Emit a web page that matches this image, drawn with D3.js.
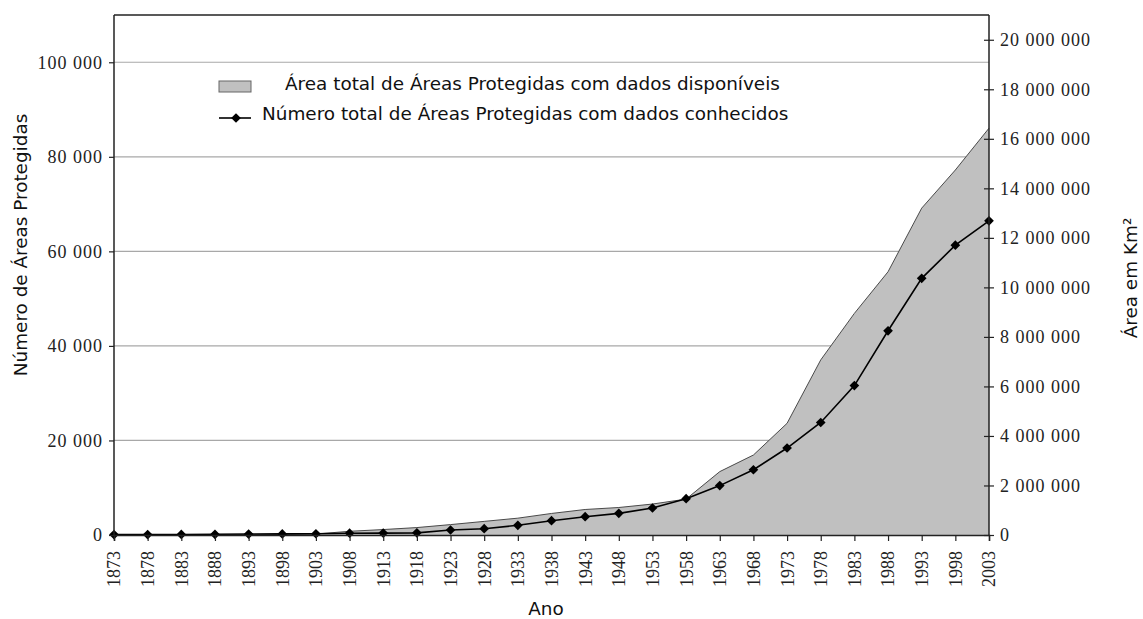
<!DOCTYPE html>
<html>
<head>
<meta charset="utf-8">
<script src="https://cdn.jsdelivr.net/npm/d3@7"></script>
<style>
body { margin: 0; background: #fff; }
.tick text { font-family: "Liberation Serif", serif; font-size: 18px; fill: #222; }
.lbl { font-family: "DejaVu Sans", sans-serif; fill: #111; font-size: 18.4px; }
</style>
</head>
<body>
<svg id="chart" width="1143" height="619"></svg>
<script>
// anos do eixo x
var years = [1873, 1878, 1883, 1888, 1893, 1898, 1903, 1908, 1913, 1918, 1923, 1928, 1933,
	1938, 1943, 1948, 1953, 1958, 1963, 1968, 1973, 1978, 1983, 1988, 1993, 1998, 2003];
// área total (km2), eixo da direita
var areaKm2 = [5000, 5000, 8000, 10000, 15000, 20000, 40000, 150000, 220000, 300000, 420000, 550000, 680000,
	870000, 1030000, 1110000, 1250000, 1450000, 2560000, 3230000, 4510000, 7070000, 8950000, 10630000,
	13200000, 14740000, 16430000];
// número de áreas protegidas, eixo da esquerda
var numAreas = [80, 100, 120, 150, 200, 230, 260, 380, 400, 450, 1060, 1330, 2050,
	3030, 3870, 4580, 5710, 7680, 10450, 13800, 18400, 23800, 31600, 43200, 54300, 61300, 66450];
var leftTicks = [0, 20000, 40000, 60000, 80000, 100000];
var rightTicks = [0, 2000000, 4000000, 6000000, 8000000, 10000000, 12000000, 14000000, 16000000, 18000000, 20000000];

var margin = { left: 114, right: 154, top: 15, bottom: 84 };
var width = 1143 - margin.left - margin.right;
var height = 619 - margin.top - margin.bottom;

var loc = d3.formatLocale({ decimal: ",", thousands: " ", grouping: [3], currency: ["", ""] });
var fmt = loc.format(",d");

var svg = d3.select("#chart");

var x = d3.scalePoint()
	.domain(years)
	.range([margin.left, margin.left + width]);
var yL = d3.scaleLinear()
	.domain([0, 110000])
	.range([margin.top + height, margin.top]);
var yR = d3.scaleLinear()
	.domain([0, 21000000])
	.range([margin.top + height, margin.top]);

// linhas de grade
svg.append("g")
	.selectAll("line")
	.data(leftTicks.slice(1))
	.enter()
	.append("line")
	.attr("x1", margin.left)
	.attr("x2", margin.left + width)
	.attr("y1", function (d) { return yL(d); })
	.attr("y2", function (d) { return yL(d); })
	.attr("stroke", "#a8a8a8")
	.attr("stroke-width", 1.2);

// área
var area = d3.area()
	.x(function (d, i) { return x(years[i]); })
	.y0(yR(0))
	.y1(function (d) { return yR(d); });
var areaEdge = d3.line()
	.x(function (d, i) { return x(years[i]); })
	.y(function (d) { return yR(d); });
svg.append("path")
	.datum(areaKm2)
	.attr("d", area)
	.attr("fill", "#c0c0c0");
svg.append("path")
	.datum(areaKm2)
	.attr("d", areaEdge)
	.attr("fill", "none")
	.attr("stroke", "#4a4a4a")
	.attr("stroke-width", 1);

// número
var line = d3.line()
	.x(function (d, i) { return x(years[i]); })
	.y(function (d) { return yL(d); });
svg.append("path")
	.datum(numAreas)
	.attr("d", line)
	.attr("fill", "none")
	.attr("stroke", "#000")
	.attr("stroke-width", 1.6);
var diamond = d3.symbol().type(d3.symbolDiamond2).size(60);
svg.append("g")
	.selectAll("path")
	.data(numAreas)
	.enter()
	.append("path")
	.attr("d", diamond)
	.attr("transform", function (d, i) {
		return "translate(" + x(years[i]) + "," + yL(d) + ")";
	})
	.attr("fill", "#000");

// moldura de cima
svg.append("line")
	.attr("x1", margin.left).attr("x2", margin.left + width)
	.attr("y1", margin.top).attr("y2", margin.top)
	.attr("stroke", "#222").attr("stroke-width", 1.5);

// eixos
var xAxis = d3.axisBottom(x).tickSize(6).tickPadding(4);
var gx = svg.append("g")
	.attr("transform", "translate(0," + (margin.top + height) + ")")
	.call(xAxis);
gx.selectAll(".tick text")
	.attr("transform", "rotate(-90)")
	.attr("text-anchor", "end")
	.attr("x", -16)
	.attr("y", 0)
	.attr("dy", "0.33em");

var gl = svg.append("g")
	.attr("transform", "translate(" + margin.left + ",0)")
	.call(d3.axisLeft(yL).tickValues(leftTicks).tickFormat(fmt).tickSize(5).tickPadding(6));
gl.select(".domain").attr("d", "M0," + (margin.top + height) + "V" + margin.top);

var gr = svg.append("g")
	.attr("transform", "translate(" + (margin.left + width) + ",0)")
	.call(d3.axisRight(yR).tickValues(rightTicks).tickFormat(fmt).tickSize(5).tickPadding(6));
gr.select(".domain").attr("d", "M0," + (margin.top + height) + "V" + margin.top);
gr.selectAll(".tick line").attr("x1", -5);

svg.selectAll(".domain").attr("stroke", "#222").attr("stroke-width", 1.5);
svg.selectAll(".tick line").attr("stroke", "#222").attr("stroke-width", 1.2);
gl.selectAll(".tick text").style("letter-spacing", "1px");
gr.selectAll(".tick text").style("letter-spacing", "1px");

// títulos
svg.append("text")
	.attr("class", "lbl")
	.attr("transform", "translate(21,245) rotate(-90)")
	.attr("text-anchor", "middle")
	.attr("dy", "0.35em")
	.text("Número de Áreas Protegidas");
svg.append("text")
	.attr("class", "lbl")
	.attr("transform", "translate(1131,278) rotate(-90)")
	.attr("text-anchor", "middle")
	.attr("dy", "0.35em")
	.text("Área em Km²");
svg.append("text")
	.attr("class", "lbl")
	.attr("x", 546)
	.attr("y", 609)
	.attr("dy", "0.35em")
	.attr("text-anchor", "middle")
	.text("Ano");

// legenda
var legend = svg.append("g");
legend.append("rect")
	.attr("x", 219).attr("y", 81).attr("width", 32).attr("height", 11)
	.attr("fill", "#c0c0c0").attr("stroke", "#666").attr("stroke-width", 1);
legend.append("text")
	.attr("class", "lbl")
	.attr("x", 285).attr("y", 84).attr("dy", "0.35em")
	.text("Área total de Áreas Protegidas com dados disponíveis");
legend.append("line")
	.attr("x1", 219).attr("x2", 251).attr("y1", 118).attr("y2", 118)
	.attr("stroke", "#000").attr("stroke-width", 1.6);
legend.append("path")
	.attr("d", diamond)
	.attr("transform", "translate(236,118)")
	.attr("fill", "#000");
legend.append("text")
	.attr("class", "lbl")
	.attr("x", 262).attr("y", 114).attr("dy", "0.35em")
	.text("Número total de Áreas Protegidas com dados conhecidos");
</script>
</body>
</html>
